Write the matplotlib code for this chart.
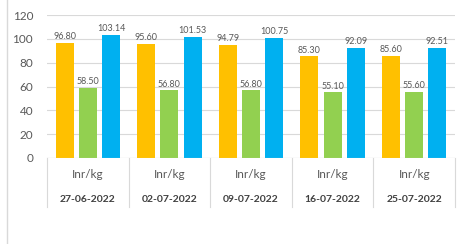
import numpy as np
import matplotlib.pyplot as plt

plt.rcParams['font.family'] = ['Lato', 'DejaVu Sans']

dates = ['27-06-2022', '02-07-2022', '09-07-2022', '16-07-2022', '25-07-2022']
unit = 'Inr/kg'
serie_jaune = [96.80, 95.60, 94.79, 85.30, 85.60]
serie_verte = [58.50, 56.80, 56.80, 55.10, 55.60]
serie_bleue = [103.14, 101.53, 100.75, 92.09, 92.51]

couleurs = ['#FFC000', '#92D050', '#00B0F0']
gris = '#595959'
gris_ligne = '#D9D9D9'

fig = plt.figure(figsize=(4.65, 2.44), dpi=100)
ax = fig.add_axes([47/465, 1-158/244, 408/465, 143/244])

x = np.arange(len(dates))
largeur = 0.22
pas = 0.285
for i, (serie, c) in enumerate(zip([serie_jaune, serie_verte, serie_bleue], couleurs)):
    barres = ax.bar(x + (i-1)*pas, serie, largeur, color=c, zorder=3)
    for b, v in zip(barres, serie):
        ax.text(b.get_x()+b.get_width()/2, v+1.5, '%.2f' % v, ha='center', va='bottom',
                fontsize=6.5, color=gris)

ax.set_xlim(-0.5, len(dates)-0.5)
ax.set_ylim(0, 120)
ax.set_yticks(range(0, 121, 20))
ax.tick_params(axis='y', length=0, labelsize=8.5, labelcolor=gris, pad=10)
ax.set_xticks([])
ax.grid(axis='y', color=gris_ligne, linewidth=0.8, zorder=0)
for s in ax.spines.values():
    s.set_visible(False)
ax.axhline(0, color=gris_ligne, linewidth=0.8, zorder=4)

# séparateurs et étiquettes des catégories
trans = ax.get_xaxis_transform()
bas = -(207-158)/143
for k in range(len(dates)+1):
    ax.plot([k-0.5, k-0.5], [0, bas], color=gris_ligne, linewidth=0.8,
            transform=trans, clip_on=False)
for k, d in enumerate(dates):
    ax.text(k, -(174-158)/143, unit, transform=trans, ha='center', va='center',
            fontsize=8.5, color=gris)
    ax.text(k, -(199-158)/143, d, transform=trans, ha='center', va='center',
            fontsize=7.5, color='#404040', fontweight='bold')

# bord gauche de la page
fig.add_artist(plt.Line2D([7/465, 7/465], [0, 1], color=gris_ligne, linewidth=1))

fig.savefig('out.png', dpi=100)
